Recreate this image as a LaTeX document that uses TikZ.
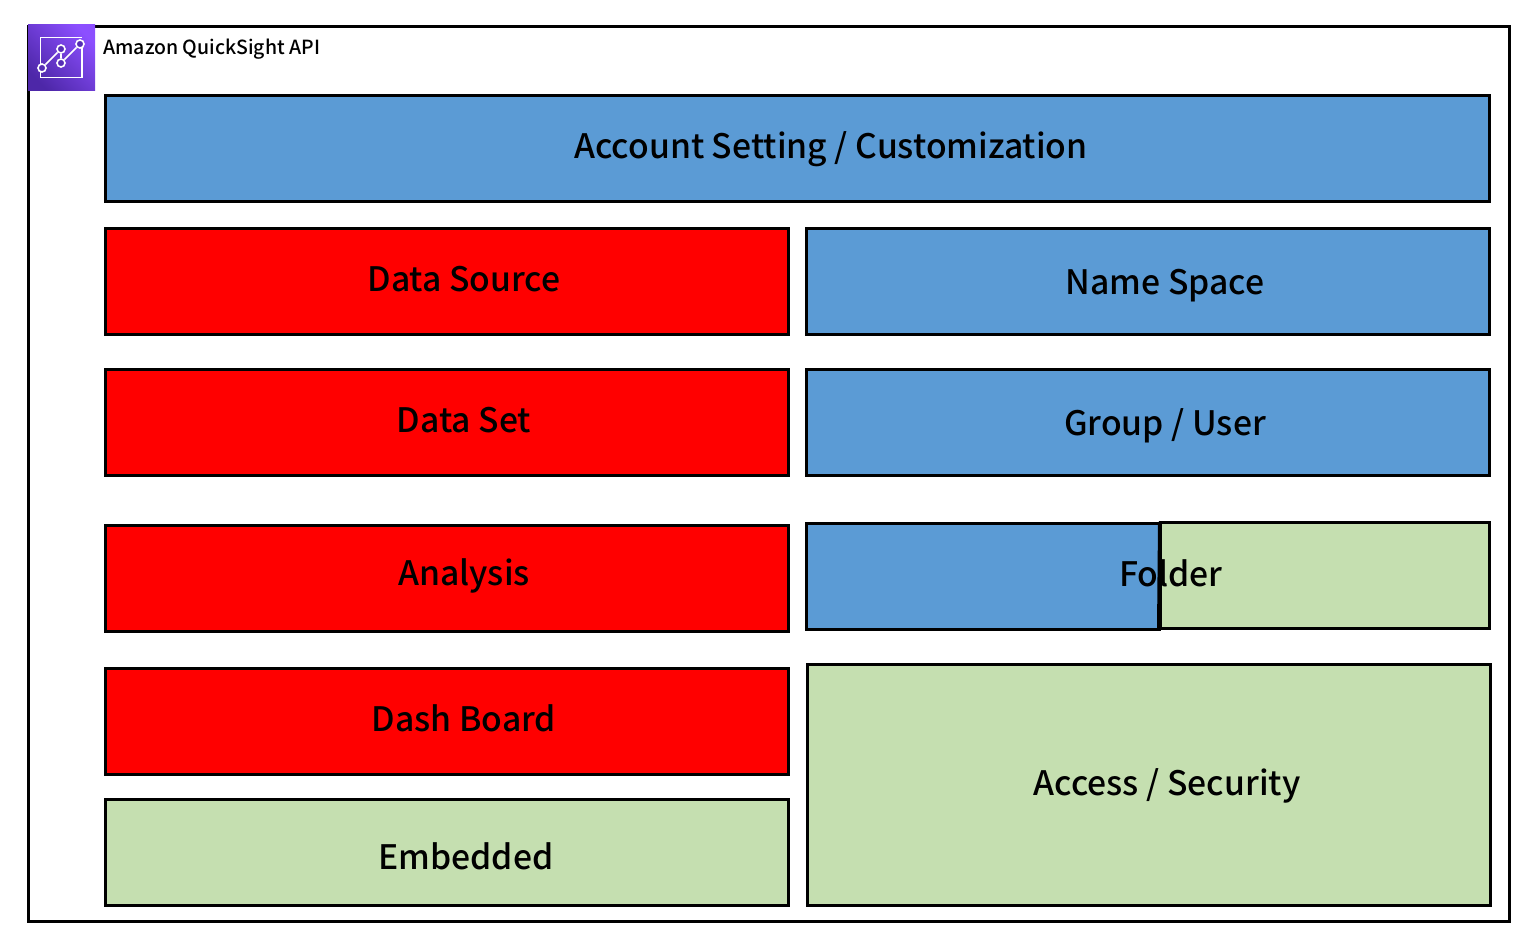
\documentclass[tikz,border=0pt]{standalone}
\usepackage{fontspec}
\setmainfont{Noto Sans CJK JP Medium}
\definecolor{bluebox}{HTML}{5B9BD5}
\definecolor{greenbox}{HTML}{C5DFB0}
\definecolor{redbox}{HTML}{FF0000}
\definecolor{iconA}{HTML}{8C4FFF}
\definecolor{iconB}{HTML}{4D27A8}
\tikzset{
  apibox/.style={draw=black,line width=1.5pt,rectangle,inner sep=0pt,outer sep=0pt},
  lbl/.style={font=\fontsize{16.85}{20}\selectfont,text=black,inner sep=0pt,anchor=base},
  iconline/.style={draw=white,line width=0.8pt},
  dot/.style={circle,draw=white,fill=iconB!85!iconA,line width=0.8pt,minimum size=4pt,inner sep=0pt}
}
\newcommand{\boxat}[6]{\node[apibox,fill=#6,anchor=north west,minimum width=#4*0.5pt-#2*0.5pt-0.5pt,minimum height=#5*0.5pt-#3*0.5pt-0.5pt] (#1) at (#2,#3) {};}
\begin{document}
\begin{tikzpicture}[x=0.5pt,y=-0.5pt]
\useasboundingbox (0,0) rectangle (1530,931);
\node[apibox,anchor=north west,minimum width=740.5pt,minimum height=447.5pt] (outer) at (28.5,26.5) {};
% icon
\node[rectangle,inner sep=0pt,outer sep=0pt,anchor=north west,minimum width=33.5pt,minimum height=33pt,
  left color=iconB,right color=iconA,shading angle=135] (icon) at (28,24.5) {};
\draw[iconline] (82,37.5) -- (40.5,37.5) -- (40.5,77.5) -- (82,77.5) -- (82,44);
\node[dot] (d1) at (42,68) {};
\node[dot] (d2) at (61,49) {};
\node[dot] (d3) at (61,63) {};
\node[dot] (d4) at (80,44) {};
\draw[iconline] (d1) -- (d2);
\draw[iconline] (d2) -- (d3);
\draw[iconline] (d3) -- (d4);
\node[font=\fontsize{9.73}{12}\selectfont,anchor=base west,inner sep=0pt] (title) at (103,55) {Amazon QuickSight API};
% boxes
\boxat{account}{105}{96}{1490}{202}{bluebox}
\boxat{source}{105}{228}{789}{335}{redbox}
\boxat{name}{806}{228}{1490}{335}{bluebox}
\boxat{set}{105}{369}{789}{476}{redbox}
\boxat{group}{806}{369}{1490}{476}{bluebox}
\boxat{analysis}{105}{525}{789}{632}{redbox}
\boxat{folderb}{806}{523}{1160}{630}{bluebox}
\boxat{folderg}{1160}{522}{1490}{629}{greenbox}
\boxat{dash}{105}{668}{789}{775}{redbox}
\boxat{embedded}{105}{799}{789}{906}{greenbox}
\boxat{access}{807}{664}{1491}{906}{greenbox}
\draw[line width=2pt] (folderg.north west) -- (folderb.south east);
% labels
\node[lbl] (t1) at (831,158.5) {Account Setting / Customization};
\node[lbl] (t2) at (464,291) {Data Source};
\node[lbl] (t3) at (1165,294) {Name Space};
\node[lbl] (t4) at (464,432) {Data Set};
\node[lbl] (t5) at (1165,435) {Group / User};
\node[lbl] (t6) at (464,585) {Analysis};
\node[lbl] (t7) at (1171,586) {Folder};
\node[lbl] (t8) at (464,731) {Dash Board};
\node[lbl] (t9) at (466,869) {Embedded};
\node[lbl] (t10) at (1167,795) {Access / Security};
\end{tikzpicture}
\end{document}
